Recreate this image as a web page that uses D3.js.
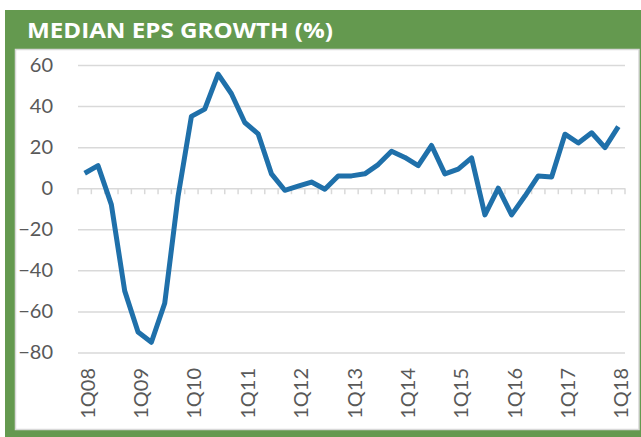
<!DOCTYPE html>
<html>
<head>
<meta charset="utf-8">
<script src="https://cdn.jsdelivr.net/npm/d3@7"></script>
<style>
  body { margin: 0; background: #fff; }
  svg { display: block; }
</style>
</head>
<body>
<div id="vis"></div>
<script>
// quarterly categories, 1Q08 .. 1Q18
const years = ['08','09','10','11','12','13','14','15','16','17','18'];
const quarters = [];
years.forEach(function (y, i) {
  for (let q = 1; q <= 4; q++) {
    if (i === years.length - 1 && q > 1) break;
    quarters.push(q + 'Q' + y);
  }
});

// median EPS growth (%)
const epsGrowth = [
  7.3, 11, -8, -50, -70, -75, -56, -4,
  35, 38.5, 55.6, 46, 32, 26.5, 7, -1,
  1, 3, -0.5, 6, 6, 7, 11.5, 18,
  15, 11, 20.8, 7, 9.3, 14.8, -13, 0,
  -13, -3.8, 6, 5.5, 26.3, 22, 27, 19.8,
  30
];

const yTicks = [-80, -60, -40, -20, 0, 20, 40, 60];
const xTickLabels = ['1Q08','1Q09','1Q10','1Q11','1Q12','1Q13','1Q14','1Q15','1Q16','1Q17','1Q18'];
const title = 'MEDIAN EPS GROWTH (%)';

const width = 641;
const height = 437;
const green = '#64994f';
const gridColor = '#d9d9d9';
const textColor = '#595959';

let svg = d3.select('#vis')
  .append('svg')
  .attr('width', width)
  .attr('height', height);

// green frame + title bar
svg.append('rect')
  .attr('x', 5).attr('y', 10)
  .attr('width', width - 5).attr('height', height - 10)
  .attr('fill', green);

svg.append('text')
  .attr('x', 27).attr('y', 38)
  .attr('fill', '#fff')
  .attr('font-family', 'Open Sans, sans-serif')
  .attr('font-weight', 'bold')
  .attr('font-size', 22)
  .attr('textLength', 306)
  .attr('lengthAdjust', 'spacingAndGlyphs')
  .text(title);

// white plot panel
svg.append('rect')
  .attr('x', 15.5).attr('y', 49.5)
  .attr('width', 623.5).attr('height', 380)
  .attr('fill', '#fff')
  .attr('stroke', gridColor)
  .attr('stroke-width', 1.5);

let x = d3.scaleBand()
  .domain(quarters)
  .range([78, 625]);

let y = d3.scaleLinear()
  .domain([-80, 60])
  .range([352.5, 65]);

// y axis with gridlines
let yAxis = svg.append('g')
  .attr('transform', 'translate(78,0)')
  .call(d3.axisLeft(y)
    .tickValues(yTicks)
    .tickSize(-(625 - 78))
    .tickPadding(25));

yAxis.select('.domain').remove();
yAxis.selectAll('.tick line')
  .attr('stroke', gridColor)
  .attr('stroke-width', 1.5);
yAxis.selectAll('.tick text')
  .attr('fill', textColor)
  .attr('font-family', 'Lato, sans-serif')
  .attr('font-size', 20);

// small category ticks under the zero line
let bounds = quarters.map(function (q) { return x(q); }).concat([x.range()[1]]);
svg.append('g')
  .selectAll('line')
  .data(bounds)
  .enter().append('line')
  .attr('x1', function (d) { return d; })
  .attr('x2', function (d) { return d; })
  .attr('y1', y(0))
  .attr('y2', y(0) + 6)
  .attr('stroke', gridColor)
  .attr('stroke-width', 1.5);

// x axis labels, rotated
let xAxis = svg.append('g')
  .attr('transform', 'translate(0,' + 368 + ')')
  .call(d3.axisBottom(x)
    .tickValues(xTickLabels)
    .tickSize(0)
    .tickPadding(0));

xAxis.select('.domain').remove();
xAxis.selectAll('.tick text')
  .attr('fill', textColor)
  .attr('font-family', 'Lato, sans-serif')
  .attr('font-size', 20)
  .attr('text-anchor', 'end')
  .attr('transform', 'rotate(-90)')
  .attr('x', 0)
  .attr('y', 0)
  .attr('dy', '0.5em');

// the line
let line = d3.line()
  .x(function (d, i) { return x(quarters[i]) + x.bandwidth() / 2; })
  .y(function (d) { return y(d); });

svg.append('path')
  .datum(epsGrowth)
  .attr('d', line)
  .attr('fill', 'none')
  .attr('stroke', '#1f70aa')
  .attr('stroke-width', 5)
  .attr('stroke-linejoin', 'round');
</script>
</body>
</html>
